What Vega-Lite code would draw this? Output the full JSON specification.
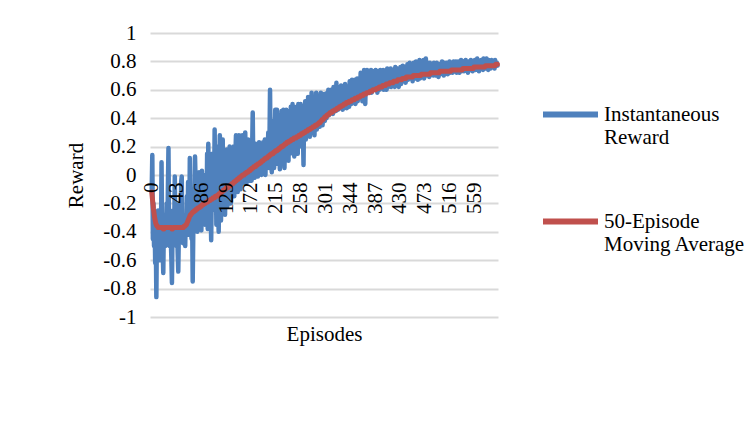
{
"$schema": "https://vega.github.io/schema/vega-lite/v6.json",
"width": 348, "height": 284,
"autosize": {"type": "none"},
"padding": {"left": 150, "top": 33, "right": 247, "bottom": 117},
"background": "white",
"config": {
  "view": {"stroke": null},
  "font": "Liberation Serif",
  "axis": {"labelFont": "Liberation Serif", "titleFont": "Liberation Serif", "labelFontSize": 21, "titleFontSize": 21, "labelColor": "#000000", "titleColor": "#000000", "titleFontWeight": "normal", "domain": false, "ticks": false, "tickSize": 0},
  "legend": {"orient": "none", "legendX": 390, "legendY": 51, "padding": 0, "symbolType": "stroke", "symbolSize": 3025, "symbolStrokeWidth": 6, "labelFont": "Liberation Serif", "labelFontSize": 21, "labelColor": "#000000", "labelLimit": 400, "labelOffset": 3, "labelBaseline": "middle", "rowPadding": 43}
},
"data": {"values": [
{"e":0,"r":-0.1,"m":-0.12},{"e":1,"r":0.14,"m":-0.16},{"e":2,"r":-0.45,"m":-0.2},{"e":3,"r":-0.2,"m":-0.24},{"e":4,"r":-0.5,"m":-0.27},{"e":5,"r":-0.3,"m":-0.3},{"e":6,"r":-0.62,"m":-0.32},{"e":7,"r":-0.4,"m":-0.34},{"e":8,"r":-0.86,"m":-0.35},{"e":9,"r":-0.35,"m":-0.36},
{"e":10,"r":-0.55,"m":-0.36},{"e":11,"r":-0.25,"m":-0.37},{"e":12,"r":-0.48,"m":-0.37},{"e":13,"r":-0.38,"m":-0.37},{"e":14,"r":-0.6,"m":-0.37},{"e":15,"r":-0.3,"m":-0.37},{"e":16,"r":-0.45,"m":-0.37},{"e":17,"r":0.09,"m":-0.37},{"e":18,"r":-0.4,"m":-0.37},{"e":19,"r":-0.52,"m":-0.37},
{"e":20,"r":-0.69,"m":-0.38},{"e":21,"r":-0.35,"m":-0.38},{"e":22,"r":-0.45,"m":-0.37},{"e":23,"r":-0.28,"m":-0.37},{"e":24,"r":-0.5,"m":-0.37},{"e":25,"r":-0.4,"m":-0.37},{"e":26,"r":-0.2,"m":-0.37},{"e":27,"r":-0.45,"m":-0.37},{"e":28,"r":-0.1,"m":-0.37},{"e":29,"r":0.19,"m":-0.37},
{"e":30,"r":-0.38,"m":-0.37},{"e":31,"r":-0.5,"m":-0.37},{"e":32,"r":-0.3,"m":-0.37},{"e":33,"r":-0.45,"m":-0.37},{"e":34,"r":-0.58,"m":-0.37},{"e":35,"r":-0.76,"m":-0.38},{"e":36,"r":-0.4,"m":-0.38},{"e":37,"r":-0.25,"m":-0.37},{"e":38,"r":-0.48,"m":-0.37},{"e":39,"r":-0.35,"m":-0.37},
{"e":40,"r":-0.01,"m":-0.37},{"e":41,"r":-0.42,"m":-0.37},{"e":42,"r":-0.3,"m":-0.37},{"e":43,"r":-0.5,"m":-0.37},{"e":44,"r":-0.38,"m":-0.37},{"e":45,"r":-0.55,"m":-0.37},{"e":46,"r":-0.68,"m":-0.37},{"e":47,"r":-0.4,"m":-0.37},{"e":48,"r":-0.2,"m":-0.37},{"e":49,"r":-0.45,"m":-0.37},
{"e":50,"r":-0.32,"m":-0.37},{"e":51,"r":-0.05,"m":-0.37},{"e":52,"r":-0.01,"m":-0.37},{"e":53,"r":-0.4,"m":-0.37},{"e":54,"r":-0.48,"m":-0.37},{"e":55,"r":-0.3,"m":-0.37},{"e":56,"r":-0.42,"m":-0.36},{"e":57,"r":-0.35,"m":-0.36},{"e":58,"r":-0.5,"m":-0.36},{"e":59,"r":-0.28,"m":-0.35},
{"e":60,"r":-0.4,"m":-0.35},{"e":61,"r":-0.15,"m":-0.34},{"e":62,"r":-0.35,"m":-0.33},{"e":63,"r":-0.05,"m":-0.32},{"e":64,"r":-0.3,"m":-0.31},{"e":65,"r":-0.42,"m":-0.3},{"e":66,"r":0.12,"m":-0.29},{"e":67,"r":-0.2,"m":-0.28},{"e":68,"r":-0.38,"m":-0.28},{"e":69,"r":-0.45,"m":-0.27},
{"e":70,"r":-0.3,"m":-0.27},{"e":71,"r":-0.75,"m":-0.26},{"e":72,"r":-0.4,"m":-0.26},{"e":73,"r":-0.1,"m":-0.26},{"e":74,"r":-0.3,"m":-0.25},{"e":75,"r":0.13,"m":-0.25},{"e":76,"r":-0.05,"m":-0.25},{"e":77,"r":-0.35,"m":-0.24},{"e":78,"r":-0.2,"m":-0.24},{"e":79,"r":-0.4,"m":-0.24},
{"e":80,"r":-0.15,"m":-0.23},{"e":81,"r":-0.3,"m":-0.23},{"e":82,"r":0.02,"m":-0.23},{"e":83,"r":-0.25,"m":-0.23},{"e":84,"r":-0.1,"m":-0.22},{"e":85,"r":-0.35,"m":-0.22},{"e":86,"r":-0.39,"m":-0.22},{"e":87,"r":0.03,"m":-0.21},{"e":88,"r":-0.2,"m":-0.21},{"e":89,"r":-0.3,"m":-0.21},
{"e":90,"r":-0.05,"m":-0.2},{"e":91,"r":-0.25,"m":-0.2},{"e":92,"r":-0.35,"m":-0.2},{"e":93,"r":0,"m":-0.2},{"e":94,"r":-0.2,"m":-0.19},{"e":95,"r":-0.3,"m":-0.19},{"e":96,"r":0.15,"m":-0.19},{"e":97,"r":-0.38,"m":-0.19},{"e":98,"r":0.22,"m":-0.18},{"e":99,"r":-0.1,"m":-0.18},
{"e":100,"r":-0.3,"m":-0.18},{"e":101,"r":0.05,"m":-0.18},{"e":102,"r":-0.2,"m":-0.17},{"e":103,"r":-0.46,"m":-0.17},{"e":104,"r":-0.1,"m":-0.17},{"e":105,"r":0.15,"m":-0.17},{"e":106,"r":-0.25,"m":-0.16},{"e":107,"r":0.05,"m":-0.16},{"e":108,"r":-0.15,"m":-0.16},{"e":109,"r":0.32,"m":-0.16},
{"e":110,"r":-0.2,"m":-0.15},{"e":111,"r":0.1,"m":-0.15},{"e":112,"r":-0.35,"m":-0.15},{"e":113,"r":-0.05,"m":-0.15},{"e":114,"r":0.2,"m":-0.14},{"e":115,"r":-0.25,"m":-0.14},{"e":116,"r":-0.4,"m":-0.14},{"e":117,"r":0.05,"m":-0.13},{"e":118,"r":0.28,"m":-0.13},{"e":119,"r":-0.15,"m":-0.13},
{"e":120,"r":-0.32,"m":-0.12},{"e":121,"r":0.1,"m":-0.12},{"e":122,"r":-0.05,"m":-0.12},{"e":123,"r":0.25,"m":-0.11},{"e":124,"r":-0.2,"m":-0.11},{"e":125,"r":-0.1,"m":-0.11},{"e":126,"r":0.15,"m":-0.1},{"e":127,"r":-0.28,"m":-0.1},{"e":128,"r":0,"m":-0.1},{"e":129,"r":-0.12,"m":-0.09},
{"e":130,"r":0.18,"m":-0.09},{"e":131,"r":-0.22,"m":-0.09},{"e":132,"r":-0.05,"m":-0.09},{"e":133,"r":0.1,"m":-0.08},{"e":134,"r":-0.15,"m":-0.08},{"e":135,"r":0.2,"m":-0.08},{"e":136,"r":-0.08,"m":-0.07},{"e":137,"r":-0.2,"m":-0.07},{"e":138,"r":0.05,"m":-0.07},{"e":139,"r":0.12,"m":-0.06},
{"e":140,"r":-0.1,"m":-0.06},{"e":141,"r":0.02,"m":-0.06},{"e":142,"r":0.2,"m":-0.05},{"e":143,"r":-0.15,"m":-0.05},{"e":144,"r":-0.05,"m":-0.05},{"e":145,"r":0.15,"m":-0.04},{"e":146,"r":0.28,"m":-0.04},{"e":147,"r":-0.08,"m":-0.04},{"e":148,"r":0.1,"m":-0.03},{"e":149,"r":-0.12,"m":-0.03},
{"e":150,"r":0.05,"m":-0.03},{"e":151,"r":0.28,"m":-0.02},{"e":152,"r":-0.05,"m":-0.02},{"e":153,"r":0.15,"m":-0.02},{"e":154,"r":-0.1,"m":-0.01},{"e":155,"r":0.22,"m":-0.01},{"e":156,"r":0,"m":-0.01},{"e":157,"r":0.28,"m":0},{"e":158,"r":-0.06,"m":0},{"e":159,"r":0.1,"m":0},
{"e":160,"r":0.18,"m":0},{"e":161,"r":-0.05,"m":0.01},{"e":162,"r":0.3,"m":0.01},{"e":163,"r":0.05,"m":0.01},{"e":164,"r":-0.06,"m":0.02},{"e":165,"r":0.2,"m":0.02},{"e":166,"r":0.08,"m":0.02},{"e":167,"r":0.25,"m":0.02},{"e":168,"r":-0.04,"m":0.03},{"e":169,"r":0.12,"m":0.03},
{"e":170,"r":0,"m":0.03},{"e":171,"r":0.22,"m":0.04},{"e":172,"r":0.1,"m":0.04},{"e":173,"r":-0.04,"m":0.04},{"e":174,"r":0.18,"m":0.05},{"e":175,"r":0.44,"m":0.05},{"e":176,"r":0.05,"m":0.05},{"e":177,"r":0.2,"m":0.06},{"e":178,"r":-0.02,"m":0.06},{"e":179,"r":0.15,"m":0.06},
{"e":180,"r":0.22,"m":0.06},{"e":181,"r":0.02,"m":0.07},{"e":182,"r":0.12,"m":0.07},{"e":183,"r":0.2,"m":0.07},{"e":184,"r":-0.01,"m":0.08},{"e":185,"r":0.16,"m":0.08},{"e":186,"r":0.23,"m":0.08},{"e":187,"r":0.05,"m":0.08},{"e":188,"r":0.18,"m":0.09},{"e":189,"r":0.1,"m":0.09},
{"e":190,"r":0,"m":0.09},{"e":191,"r":0.22,"m":0.1},{"e":192,"r":0.12,"m":0.1},{"e":193,"r":0.23,"m":0.1},{"e":194,"r":0.05,"m":0.11},{"e":195,"r":0.18,"m":0.11},{"e":196,"r":0.25,"m":0.11},{"e":197,"r":0,"m":0.12},{"e":198,"r":0.15,"m":0.12},{"e":199,"r":0.22,"m":0.12},
{"e":200,"r":0.08,"m":0.12},{"e":201,"r":0.2,"m":0.13},{"e":202,"r":0.3,"m":0.13},{"e":203,"r":0.05,"m":0.13},{"e":204,"r":0.22,"m":0.14},{"e":205,"r":0.6,"m":0.14},{"e":206,"r":0.1,"m":0.14},{"e":207,"r":0.25,"m":0.15},{"e":208,"r":0.02,"m":0.15},{"e":209,"r":0.3,"m":0.15},
{"e":210,"r":0.15,"m":0.15},{"e":211,"r":0.38,"m":0.16},{"e":212,"r":0.05,"m":0.16},{"e":213,"r":0.25,"m":0.16},{"e":214,"r":0.46,"m":0.17},{"e":215,"r":0.12,"m":0.17},{"e":216,"r":0.3,"m":0.17},{"e":217,"r":0.46,"m":0.17},{"e":218,"r":0.08,"m":0.18},{"e":219,"r":0.35,"m":0.18},
{"e":220,"r":0.2,"m":0.18},{"e":221,"r":0.42,"m":0.19},{"e":222,"r":0.04,"m":0.19},{"e":223,"r":0.28,"m":0.19},{"e":224,"r":0.15,"m":0.2},{"e":225,"r":0.45,"m":0.2},{"e":226,"r":0.1,"m":0.2},{"e":227,"r":0.32,"m":0.2},{"e":228,"r":0.46,"m":0.21},{"e":229,"r":0.18,"m":0.21},
{"e":230,"r":0.05,"m":0.21},{"e":231,"r":0.4,"m":0.22},{"e":232,"r":0.25,"m":0.22},{"e":233,"r":0.46,"m":0.22},{"e":234,"r":0.12,"m":0.23},{"e":235,"r":0.3,"m":0.23},{"e":236,"r":0.38,"m":0.23},{"e":237,"r":0.1,"m":0.23},{"e":238,"r":0.45,"m":0.24},{"e":239,"r":0.22,"m":0.24},
{"e":240,"r":0.15,"m":0.24},{"e":241,"r":0.48,"m":0.24},{"e":242,"r":0.3,"m":0.25},{"e":243,"r":0.2,"m":0.25},{"e":244,"r":0.5,"m":0.25},{"e":245,"r":0.25,"m":0.25},{"e":246,"r":0.4,"m":0.26},{"e":247,"r":0.13,"m":0.26},{"e":248,"r":0.45,"m":0.26},{"e":249,"r":0.3,"m":0.26},
{"e":250,"r":0.2,"m":0.26},{"e":251,"r":0.48,"m":0.27},{"e":252,"r":0.35,"m":0.27},{"e":253,"r":0.15,"m":0.27},{"e":254,"r":0.5,"m":0.27},{"e":255,"r":0.28,"m":0.28},{"e":256,"r":0.42,"m":0.28},{"e":257,"r":0.22,"m":0.28},{"e":258,"r":0.5,"m":0.28},{"e":259,"r":0.35,"m":0.29},
{"e":260,"r":0.2,"m":0.29},{"e":261,"r":0.48,"m":0.29},{"e":262,"r":0.3,"m":0.29},{"e":263,"r":0.07,"m":0.3},{"e":264,"r":0.45,"m":0.3},{"e":265,"r":0.35,"m":0.3},{"e":266,"r":0.52,"m":0.3},{"e":267,"r":0.25,"m":0.31},{"e":268,"r":0.4,"m":0.31},{"e":269,"r":0.5,"m":0.31},
{"e":270,"r":0.28,"m":0.31},{"e":271,"r":0.55,"m":0.32},{"e":272,"r":0.35,"m":0.32},{"e":273,"r":0.45,"m":0.32},{"e":274,"r":0.27,"m":0.32},{"e":275,"r":0.52,"m":0.33},{"e":276,"r":0.4,"m":0.33},{"e":277,"r":0.58,"m":0.33},{"e":278,"r":0.3,"m":0.33},{"e":279,"r":0.48,"m":0.34},
{"e":280,"r":0.35,"m":0.34},{"e":281,"r":0.55,"m":0.34},{"e":282,"r":0.28,"m":0.34},{"e":283,"r":0.5,"m":0.35},{"e":284,"r":0.42,"m":0.35},{"e":285,"r":0.58,"m":0.35},{"e":286,"r":0.32,"m":0.35},{"e":287,"r":0.52,"m":0.36},{"e":288,"r":0.45,"m":0.36},{"e":289,"r":0.38,"m":0.36},
{"e":290,"r":0.55,"m":0.37},{"e":291,"r":0.34,"m":0.37},{"e":292,"r":0.5,"m":0.37},{"e":293,"r":0.58,"m":0.38},{"e":294,"r":0.4,"m":0.38},{"e":295,"r":0.55,"m":0.39},{"e":296,"r":0.35,"m":0.39},{"e":297,"r":0.52,"m":0.39},{"e":298,"r":0.45,"m":0.4},{"e":299,"r":0.57,"m":0.4},
{"e":300,"r":0.38,"m":0.41},{"e":301,"r":0.55,"m":0.41},{"e":302,"r":0.48,"m":0.41},{"e":303,"r":0.4,"m":0.42},{"e":304,"r":0.58,"m":0.42},{"e":305,"r":0.45,"m":0.42},{"e":306,"r":0.6,"m":0.43},{"e":307,"r":0.42,"m":0.43},{"e":308,"r":0.55,"m":0.43},{"e":309,"r":0.5,"m":0.44},
{"e":310,"r":0.44,"m":0.44},{"e":311,"r":0.6,"m":0.44},{"e":312,"r":0.5,"m":0.44},{"e":313,"r":0.57,"m":0.45},{"e":314,"r":0.43,"m":0.45},{"e":315,"r":0.62,"m":0.45},{"e":316,"r":0.48,"m":0.45},{"e":317,"r":0.58,"m":0.46},{"e":318,"r":0.52,"m":0.46},{"e":319,"r":0.45,"m":0.46},
{"e":320,"r":0.65,"m":0.46},{"e":321,"r":0.5,"m":0.47},{"e":322,"r":0.6,"m":0.47},{"e":323,"r":0.46,"m":0.47},{"e":324,"r":0.58,"m":0.47},{"e":325,"r":0.62,"m":0.48},{"e":326,"r":0.47,"m":0.48},{"e":327,"r":0.55,"m":0.48},{"e":328,"r":0.63,"m":0.48},{"e":329,"r":0.5,"m":0.49},
{"e":330,"r":0.6,"m":0.49},{"e":331,"r":0.46,"m":0.49},{"e":332,"r":0.62,"m":0.49},{"e":333,"r":0.55,"m":0.5},{"e":334,"r":0.5,"m":0.5},{"e":335,"r":0.64,"m":0.5},{"e":336,"r":0.52,"m":0.5},{"e":337,"r":0.58,"m":0.51},{"e":338,"r":0.47,"m":0.51},{"e":339,"r":0.6,"m":0.51},
{"e":340,"r":0.55,"m":0.51},{"e":341,"r":0.62,"m":0.51},{"e":342,"r":0.48,"m":0.52},{"e":343,"r":0.66,"m":0.52},{"e":344,"r":0.55,"m":0.52},{"e":345,"r":0.6,"m":0.52},{"e":346,"r":0.5,"m":0.52},{"e":347,"r":0.67,"m":0.53},{"e":348,"r":0.58,"m":0.53},{"e":349,"r":0.52,"m":0.53},
{"e":350,"r":0.65,"m":0.53},{"e":351,"r":0.55,"m":0.53},{"e":352,"r":0.67,"m":0.54},{"e":353,"r":0.5,"m":0.54},{"e":354,"r":0.62,"m":0.54},{"e":355,"r":0.57,"m":0.54},{"e":356,"r":0.68,"m":0.54},{"e":357,"r":0.52,"m":0.55},{"e":358,"r":0.64,"m":0.55},{"e":359,"r":0.6,"m":0.55},
{"e":360,"r":0.68,"m":0.55},{"e":361,"r":0.55,"m":0.55},{"e":362,"r":0.72,"m":0.56},{"e":363,"r":0.6,"m":0.56},{"e":364,"r":0.66,"m":0.56},{"e":365,"r":0.52,"m":0.56},{"e":366,"r":0.7,"m":0.56},{"e":367,"r":0.62,"m":0.57},{"e":368,"r":0.74,"m":0.57},{"e":369,"r":0.57,"m":0.57},
{"e":370,"r":0.5,"m":0.57},{"e":371,"r":0.7,"m":0.57},{"e":372,"r":0.62,"m":0.58},{"e":373,"r":0.74,"m":0.58},{"e":374,"r":0.58,"m":0.58},{"e":375,"r":0.68,"m":0.58},{"e":376,"r":0.73,"m":0.58},{"e":377,"r":0.6,"m":0.58},{"e":378,"r":0.7,"m":0.59},{"e":379,"r":0.65,"m":0.59},
{"e":380,"r":0.74,"m":0.59},{"e":381,"r":0.58,"m":0.59},{"e":382,"r":0.7,"m":0.59},{"e":383,"r":0.64,"m":0.6},{"e":384,"r":0.73,"m":0.6},{"e":385,"r":0.6,"m":0.6},{"e":386,"r":0.72,"m":0.6},{"e":387,"r":0.67,"m":0.6},{"e":388,"r":0.74,"m":0.6},{"e":389,"r":0.62,"m":0.61},
{"e":390,"r":0.7,"m":0.61},{"e":391,"r":0.58,"m":0.61},{"e":392,"r":0.73,"m":0.61},{"e":393,"r":0.66,"m":0.61},{"e":394,"r":0.72,"m":0.62},{"e":395,"r":0.6,"m":0.62},{"e":396,"r":0.74,"m":0.62},{"e":397,"r":0.68,"m":0.62},{"e":398,"r":0.62,"m":0.62},{"e":399,"r":0.72,"m":0.62},
{"e":400,"r":0.65,"m":0.63},{"e":401,"r":0.74,"m":0.63},{"e":402,"r":0.6,"m":0.63},{"e":403,"r":0.7,"m":0.63},{"e":404,"r":0.73,"m":0.63},{"e":405,"r":0.64,"m":0.63},{"e":406,"r":0.72,"m":0.64},{"e":407,"r":0.6,"m":0.64},{"e":408,"r":0.75,"m":0.64},{"e":409,"r":0.68,"m":0.64},
{"e":410,"r":0.62,"m":0.64},{"e":411,"r":0.73,"m":0.64},{"e":412,"r":0.7,"m":0.65},{"e":413,"r":0.65,"m":0.65},{"e":414,"r":0.75,"m":0.65},{"e":415,"r":0.62,"m":0.65},{"e":416,"r":0.72,"m":0.65},{"e":417,"r":0.68,"m":0.65},{"e":418,"r":0.74,"m":0.65},{"e":419,"r":0.64,"m":0.66},
{"e":420,"r":0.72,"m":0.66},{"e":421,"r":0.62,"m":0.66},{"e":422,"r":0.76,"m":0.66},{"e":423,"r":0.68,"m":0.66},{"e":424,"r":0.73,"m":0.66},{"e":425,"r":0.65,"m":0.66},{"e":426,"r":0.75,"m":0.67},{"e":427,"r":0.7,"m":0.67},{"e":428,"r":0.62,"m":0.67},{"e":429,"r":0.74,"m":0.67},
{"e":430,"r":0.68,"m":0.67},{"e":431,"r":0.76,"m":0.67},{"e":432,"r":0.64,"m":0.67},{"e":433,"r":0.73,"m":0.67},{"e":434,"r":0.7,"m":0.68},{"e":435,"r":0.77,"m":0.68},{"e":436,"r":0.66,"m":0.68},{"e":437,"r":0.74,"m":0.68},{"e":438,"r":0.7,"m":0.68},{"e":439,"r":0.76,"m":0.68},
{"e":440,"r":0.65,"m":0.68},{"e":441,"r":0.75,"m":0.69},{"e":442,"r":0.7,"m":0.69},{"e":443,"r":0.78,"m":0.69},{"e":444,"r":0.67,"m":0.69},{"e":445,"r":0.74,"m":0.69},{"e":446,"r":0.72,"m":0.69},{"e":447,"r":0.79,"m":0.69},{"e":448,"r":0.68,"m":0.69},{"e":449,"r":0.75,"m":0.69},
{"e":450,"r":0.7,"m":0.69},{"e":451,"r":0.77,"m":0.69},{"e":452,"r":0.66,"m":0.69},{"e":453,"r":0.74,"m":0.7},{"e":454,"r":0.79,"m":0.7},{"e":455,"r":0.7,"m":0.7},{"e":456,"r":0.76,"m":0.7},{"e":457,"r":0.68,"m":0.7},{"e":458,"r":0.8,"m":0.7},{"e":459,"r":0.72,"m":0.7},
{"e":460,"r":0.76,"m":0.7},{"e":461,"r":0.67,"m":0.7},{"e":462,"r":0.79,"m":0.7},{"e":463,"r":0.72,"m":0.7},{"e":464,"r":0.81,"m":0.7},{"e":465,"r":0.68,"m":0.7},{"e":466,"r":0.77,"m":0.7},{"e":467,"r":0.74,"m":0.71},{"e":468,"r":0.79,"m":0.71},{"e":469,"r":0.7,"m":0.71},
{"e":470,"r":0.76,"m":0.71},{"e":471,"r":0.81,"m":0.71},{"e":472,"r":0.68,"m":0.71},{"e":473,"r":0.78,"m":0.71},{"e":474,"r":0.72,"m":0.71},{"e":475,"r":0.82,"m":0.71},{"e":476,"r":0.74,"m":0.71},{"e":477,"r":0.7,"m":0.71},{"e":478,"r":0.79,"m":0.71},{"e":479,"r":0.73,"m":0.71},
{"e":480,"r":0.77,"m":0.71},{"e":481,"r":0.69,"m":0.71},{"e":482,"r":0.79,"m":0.71},{"e":483,"r":0.74,"m":0.72},{"e":484,"r":0.71,"m":0.72},{"e":485,"r":0.78,"m":0.72},{"e":486,"r":0.72,"m":0.72},{"e":487,"r":0.76,"m":0.72},{"e":488,"r":0.7,"m":0.72},{"e":489,"r":0.79,"m":0.72},
{"e":490,"r":0.73,"m":0.72},{"e":491,"r":0.78,"m":0.72},{"e":492,"r":0.7,"m":0.72},{"e":493,"r":0.76,"m":0.72},{"e":494,"r":0.79,"m":0.72},{"e":495,"r":0.72,"m":0.72},{"e":496,"r":0.77,"m":0.72},{"e":497,"r":0.69,"m":0.72},{"e":498,"r":0.78,"m":0.72},{"e":499,"r":0.74,"m":0.73},
{"e":500,"r":0.71,"m":0.73},{"e":501,"r":0.78,"m":0.73},{"e":502,"r":0.74,"m":0.73},{"e":503,"r":0.8,"m":0.73},{"e":504,"r":0.72,"m":0.73},{"e":505,"r":0.76,"m":0.73},{"e":506,"r":0.7,"m":0.73},{"e":507,"r":0.79,"m":0.73},{"e":508,"r":0.74,"m":0.73},{"e":509,"r":0.77,"m":0.73},
{"e":510,"r":0.72,"m":0.73},{"e":511,"r":0.79,"m":0.73},{"e":512,"r":0.75,"m":0.73},{"e":513,"r":0.71,"m":0.73},{"e":514,"r":0.78,"m":0.73},{"e":515,"r":0.74,"m":0.73},{"e":516,"r":0.8,"m":0.73},{"e":517,"r":0.72,"m":0.73},{"e":518,"r":0.77,"m":0.73},{"e":519,"r":0.75,"m":0.74},
{"e":520,"r":0.79,"m":0.74},{"e":521,"r":0.72,"m":0.74},{"e":522,"r":0.76,"m":0.74},{"e":523,"r":0.8,"m":0.74},{"e":524,"r":0.73,"m":0.74},{"e":525,"r":0.78,"m":0.74},{"e":526,"r":0.75,"m":0.74},{"e":527,"r":0.8,"m":0.74},{"e":528,"r":0.72,"m":0.74},{"e":529,"r":0.77,"m":0.74},
{"e":530,"r":0.74,"m":0.74},{"e":531,"r":0.8,"m":0.74},{"e":532,"r":0.76,"m":0.74},{"e":533,"r":0.72,"m":0.74},{"e":534,"r":0.79,"m":0.74},{"e":535,"r":0.75,"m":0.74},{"e":536,"r":0.81,"m":0.74},{"e":537,"r":0.73,"m":0.74},{"e":538,"r":0.78,"m":0.74},{"e":539,"r":0.76,"m":0.75},
{"e":540,"r":0.8,"m":0.75},{"e":541,"r":0.73,"m":0.75},{"e":542,"r":0.77,"m":0.75},{"e":543,"r":0.75,"m":0.75},{"e":544,"r":0.81,"m":0.75},{"e":545,"r":0.74,"m":0.75},{"e":546,"r":0.79,"m":0.75},{"e":547,"r":0.76,"m":0.75},{"e":548,"r":0.72,"m":0.75},{"e":549,"r":0.8,"m":0.75},
{"e":550,"r":0.75,"m":0.75},{"e":551,"r":0.78,"m":0.75},{"e":552,"r":0.74,"m":0.75},{"e":553,"r":0.81,"m":0.75},{"e":554,"r":0.76,"m":0.75},{"e":555,"r":0.79,"m":0.75},{"e":556,"r":0.73,"m":0.75},{"e":557,"r":0.8,"m":0.75},{"e":558,"r":0.77,"m":0.76},{"e":559,"r":0.75,"m":0.76},
{"e":560,"r":0.81,"m":0.76},{"e":561,"r":0.74,"m":0.76},{"e":562,"r":0.78,"m":0.76},{"e":563,"r":0.76,"m":0.76},{"e":564,"r":0.82,"m":0.76},{"e":565,"r":0.75,"m":0.76},{"e":566,"r":0.79,"m":0.76},{"e":567,"r":0.73,"m":0.76},{"e":568,"r":0.8,"m":0.76},{"e":569,"r":0.77,"m":0.76},
{"e":570,"r":0.75,"m":0.76},{"e":571,"r":0.81,"m":0.76},{"e":572,"r":0.76,"m":0.76},{"e":573,"r":0.79,"m":0.76},{"e":574,"r":0.74,"m":0.76},{"e":575,"r":0.82,"m":0.76},{"e":576,"r":0.77,"m":0.76},{"e":577,"r":0.8,"m":0.76},{"e":578,"r":0.75,"m":0.77},{"e":579,"r":0.78,"m":0.77},
{"e":580,"r":0.82,"m":0.77},{"e":581,"r":0.76,"m":0.77},{"e":582,"r":0.79,"m":0.77},{"e":583,"r":0.74,"m":0.77},{"e":584,"r":0.81,"m":0.77},{"e":585,"r":0.77,"m":0.77},{"e":586,"r":0.8,"m":0.77},{"e":587,"r":0.75,"m":0.77},{"e":588,"r":0.78,"m":0.77},{"e":589,"r":0.81,"m":0.77},
{"e":590,"r":0.76,"m":0.77},{"e":591,"r":0.8,"m":0.77},{"e":592,"r":0.77,"m":0.77},{"e":593,"r":0.79,"m":0.77},{"e":594,"r":0.75,"m":0.77},{"e":595,"r":0.81,"m":0.77},{"e":596,"r":0.78,"m":0.78},{"e":597,"r":0.77,"m":0.78},{"e":598,"r":0.79,"m":0.78},{"e":599,"r":0.77,"m":0.78}
]},
"encoding": {
  "x": {"field": "e", "type": "quantitative", "scale": {"domain": [-3, 600], "nice": false, "zero": false},
        "axis": {"title": "Episodes", "values": [0,43,86,129,172,215,258,301,344,387,430,473,516,559], "labelAngle": -90, "offset": -142, "grid": false, "labelPadding": 7, "labelOverlap": false, "labelFlush": false, "titlePadding": 110, "zindex": 2}}
},
"layer": [
  {"mark": {"type": "line", "strokeWidth": 4.5, "strokeJoin": "round", "strokeCap": "round"},
   "encoding": {
     "y": {"field": "r", "type": "quantitative", "title": "Reward", "scale": {"domain": [-1, 1], "nice": false},
           "axis": {"values": [-1,-0.8,-0.6,-0.4,-0.2,0,0.2,0.4,0.6,0.8,1], "grid": true, "gridColor": "#d9d9d9", "gridWidth": 2, "labelPadding": 14, "titlePadding": 16, "labelOverlap": false, "labelFlush": false,
                    "labelExpr": "datum.value < 0 ? '-' + format(-datum.value, '~g') : format(datum.value, '~g')"}},
     "color": {"datum": "Instantaneous Reward", "type": "nominal",
               "scale": {"domain": ["Instantaneous Reward", "50-Episode Moving Average"], "range": ["#4f81bd", "#c0504d"]},
               "legend": {"title": null, "labelExpr": "datum.label == 'Instantaneous Reward' ? ['Instantaneous', 'Reward'] : ['50-Episode', 'Moving Average']"}}
   }},
  {"mark": {"type": "line", "strokeWidth": 5, "strokeJoin": "round", "strokeCap": "round"},
   "encoding": {
     "y": {"field": "m", "type": "quantitative", "title": "Reward", "scale": {"domain": [-1, 1], "nice": false},
           "axis": {"values": [-1,-0.8,-0.6,-0.4,-0.2,0,0.2,0.4,0.6,0.8,1], "grid": true, "gridColor": "#d9d9d9", "gridWidth": 2, "labelPadding": 14, "titlePadding": 16, "labelOverlap": false, "labelFlush": false,
                    "labelExpr": "datum.value < 0 ? '-' + format(-datum.value, '~g') : format(datum.value, '~g')"}},
     "color": {"datum": "50-Episode Moving Average", "type": "nominal"}
   }}
]
}
